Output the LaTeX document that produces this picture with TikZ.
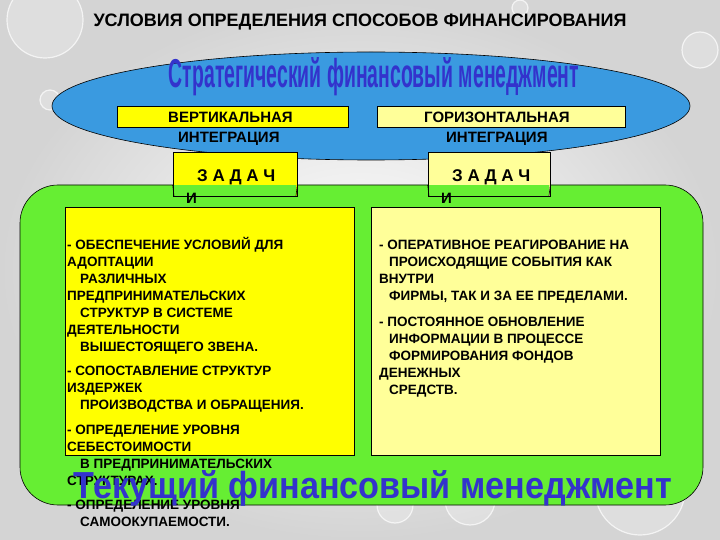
\documentclass[tikz,border=0pt]{standalone}
\usepackage{fontspec}
\usepackage{graphicx}
\usetikzlibrary{shapes.geometric}
\setmainfont{Liberation Sans}
\begin{document}
\begin{tikzpicture}[x=1pt,y=-1pt,
  ln/.style={anchor=base west,inner sep=0pt,font=\bfseries\fontsize{13.5}{14}\selectfont},
  lb/.style={anchor=base west,inner sep=0pt,font=\bfseries\fontsize{15}{16}\selectfont},
  bx/.style={draw=black,line width=0.6pt},
  bub/.style={draw=white,line width=1.2pt,fill=white,fill opacity=0.25,draw opacity=0.7}]
\definecolor{bgc}{HTML}{D4D4D4}
\definecolor{ellc}{HTML}{3A9AE0}
\definecolor{grn}{HTML}{66EE33}
\definecolor{yel}{HTML}{FFFF00}
\definecolor{lyel}{HTML}{FFFF99}
\definecolor{ttl}{HTML}{3333CC}
\shade[inner color=white,outer color=bgc] (0,0) rectangle (720,540);
\useasboundingbox (0,0) rectangle (720,540);
\draw[bub] (45,20) circle (38);
\draw[bub] (700,50) circle (18);
\draw[bub] (50,100) circle (10);
\draw[bub] (520,8) circle (8);
\draw[bub] (640,490) circle (45);
\draw[bub] (470,500) circle (25);
\draw[bub] (395,505) circle (18);
\node (hdr) at (360,22) {\bfseries\fontsize{18}{19}\selectfont УСЛОВИЯ ОПРЕДЕЛЕНИЯ СПОСОБОВ ФИНАНСИРОВАНИЯ};
\node[bx,ellipse,fill=ellc,minimum width=638,minimum height=108,inner sep=0] (ell) at (371,106) {};
\node[text=ttl] (t1) at (374,77) {\resizebox{410pt}{30pt}{\bfseries Стратегический финансовый менеджмент}};
\node[bx,fill=yel,minimum width=231,minimum height=21,inner sep=0] (vb) at (232.5,116.5) {};
\node[bx,fill=lyel,minimum width=248,minimum height=21,inner sep=0] (hb) at (501,116.5) {};
\draw[bx,fill=grn,rounded corners=38] (20,185) rectangle (703,505);
\node[bx,fill=yel,minimum width=124,minimum height=44,inner sep=0] (z1) at (235,174) {};
\node[bx,fill=lyel,minimum width=122,minimum height=44,inner sep=0] (z2) at (489,174) {};
\fill[grn] (174,185.5) -- (296,185.5) -- (296,196) -- (174,196) -- cycle;
\fill[grn] (429,185.5) -- (549,185.5) -- (549,196) -- (429,196) -- cycle;
\draw[line width=0.6pt] (174,196) -- (z1.south west|-0,185) (z1.south east|-0,185) -- (296,196);
\draw[line width=0.6pt] (429,196) -- (z2.south west|-0,185) (z2.south east|-0,185) -- (549,196);
\node[lb] (vt1) at (168,123) {ВЕРТИКАЛЬНАЯ};
\node[lb] (vt2) at (178,143) {ИНТЕГРАЦИЯ};
\node[lb] (ht1) at (424,123) {ГОРИЗОНТАЛЬНАЯ};
\node[lb] (ht2) at (446,143) {ИНТЕГРАЦИЯ};
\node[ln,font=\bfseries\fontsize{17}{18}\selectfont] (zt1) at (197,182) {З А Д А Ч};
\node[lb] (zi1) at (186,204) {И};
\node[ln,font=\bfseries\fontsize{17}{18}\selectfont] (zt2) at (452,182) {З А Д А Ч};
\node[lb] (zi2) at (441,204) {И};
\node[bx,fill=yel,minimum width=289,minimum height=248,inner sep=0] (lbx) at (209.5,331) {};
\node[bx,fill=lyel,minimum width=289,minimum height=248,inner sep=0] (rbx) at (515.5,331) {};
\foreach \y/\x/\t in {249/67/{- ОБЕСПЕЧЕНИЕ УСЛОВИЙ ДЛЯ},266/67/{АДОПТАЦИИ},283/80/{РАЗЛИЧНЫХ},300/67/{ПРЕДПРИНИМАТЕЛЬСКИХ},317/80/{СТРУКТУР В СИСТЕМЕ},334/67/{ДЕЯТЕЛЬНОСТИ},351/80/{ВЫШЕСТОЯЩЕГО ЗВЕНА.},375/67/{- СОПОСТАВЛЕНИЕ СТРУКТУР},392/67/{ИЗДЕРЖЕК},409/80/{ПРОИЗВОДСТВА И ОБРАЩЕНИЯ.},434/67/{- ОПРЕДЕЛЕНИЕ УРОВНЯ},451/67/{СЕБЕСТОИМОСТИ},468/80/{В ПРЕДПРИНИМАТЕЛЬСКИХ},485/67/{СТРУКТУРАХ.},509/67/{- ОПРЕДЕЛЕНИЕ УРОВНЯ},526/80/{САМООКУПАЕМОСТИ.}}
  \node[ln] at (\x,\y) {\t};
\foreach \y/\x/\t in {249/379/{- ОПЕРАТИВНОЕ РЕАГИРОВАНИЕ НА},266/389/{ПРОИСХОДЯЩИЕ СОБЫТИЯ КАК},283/379/{ВНУТРИ},300/389/{ФИРМЫ, ТАК И ЗА ЕЕ ПРЕДЕЛАМИ.},326/379/{- ПОСТОЯННОЕ ОБНОВЛЕНИЕ},343/389/{ИНФОРМАЦИИ В ПРОЦЕССЕ},360/389/{ФОРМИРОВАНИЯ ФОНДОВ},377/379/{ДЕНЕЖНЫХ},394/389/{СРЕДСТВ.}}
  \node[ln] at (\x,\y) {\t};
\node[text=ttl] (t2) at (373,488) {\resizebox{598pt}{28pt}{\bfseries Текущий финансовый менеджмент}};
\end{tikzpicture}
\end{document}
